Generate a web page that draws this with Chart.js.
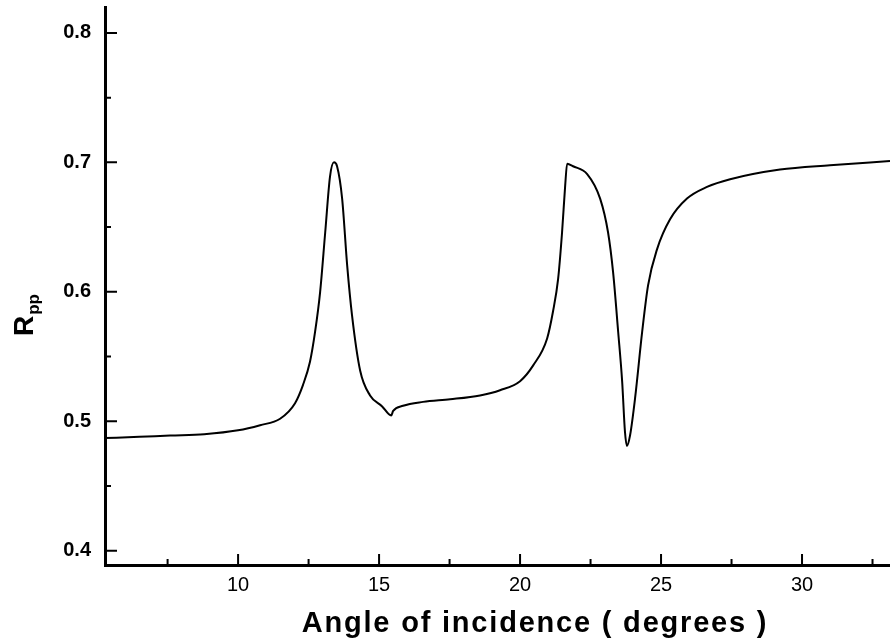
<!DOCTYPE html>
<html>
<head>
<meta charset="utf-8">
<script src="https://cdn.jsdelivr.net/npm/chart.js@4/dist/chart.umd.min.js"></script>
<style>
  html, body { margin: 0; padding: 0; background: #fff; }
  #wrap { width: 890px; height: 640px; }
</style>
</head>
<body>
<div id="wrap"><canvas id="myChart" width="890" height="640"></canvas></div>
<script>
// angle of incidence (degrees)
var angles = [5.28, 6.5, 7.59, 8.8, 10.0, 10.78, 11.49, 12.02, 12.30, 12.55,
  12.73, 12.91, 13.09, 13.26, 13.40, 13.51, 13.69, 13.87, 14.04, 14.33,
  14.68, 15.11, 15.43, 15.50, 15.85, 16.56, 17.52, 18.58, 19.29, 20.0,
  20.46, 20.96, 21.17, 21.35, 21.49, 21.60, 21.67, 21.88, 22.38, 22.84,
  23.12, 23.30, 23.48, 23.62, 23.72, 23.79, 23.90, 24.08, 24.33, 24.54,
  24.86, 25.32, 25.92, 26.63, 27.45, 29.22, 30.99, 33.12];

// reflectance Rpp
var rpp = [0.487, 0.488, 0.489, 0.490, 0.493, 0.497, 0.502, 0.514, 0.528, 0.546,
  0.569, 0.600, 0.646, 0.689, 0.700, 0.697, 0.672, 0.620, 0.582, 0.539,
  0.520, 0.5115, 0.5045, 0.508, 0.512, 0.515, 0.517, 0.520, 0.524, 0.531,
  0.543, 0.564, 0.585, 0.610, 0.646, 0.682, 0.699, 0.697, 0.691, 0.672,
  0.646, 0.615, 0.569, 0.531, 0.492, 0.481, 0.489, 0.518, 0.569, 0.605,
  0.633, 0.656, 0.672, 0.681, 0.687, 0.6945, 0.6978, 0.701];

var xTicks = [10, 15, 20, 25, 30];
var xMinorTicks = [7.5, 12.5, 17.5, 22.5, 27.5, 32.5];
var yTicks = [0.4, 0.5, 0.6, 0.7, 0.8];
var yMinorTicks = [0.45, 0.55, 0.65, 0.75];

var xTitle = 'Angle of incidence ( degrees )';
var yTitle = 'R';
var yTitleSub = 'pp';

var points = angles.map(function (a, i) { return { x: a, y: rpp[i] }; });

// inward tick marks and axis titles
var axisExtras = {
  id: 'axisExtras',
  afterDatasetsDraw: function (chart) {
    var ctx = chart.ctx;
    var xs = chart.scales.x, ys = chart.scales.y;
    var left = chart.chartArea.left, bottom = chart.chartArea.bottom;
    ctx.save();
    ctx.strokeStyle = '#000';
    ctx.lineWidth = 2;
    ctx.beginPath();
    xTicks.forEach(function (v) {
      var px = xs.getPixelForValue(v);
      ctx.moveTo(px, bottom); ctx.lineTo(px, bottom - 11);
    });
    xMinorTicks.forEach(function (v) {
      var px = xs.getPixelForValue(v);
      ctx.moveTo(px, bottom); ctx.lineTo(px, bottom - 6);
    });
    yTicks.forEach(function (v) {
      var py = ys.getPixelForValue(v);
      ctx.moveTo(left, py); ctx.lineTo(left + 12, py);
    });
    yMinorTicks.forEach(function (v) {
      var py = ys.getPixelForValue(v);
      ctx.moveTo(left, py); ctx.lineTo(left + 6, py);
    });
    ctx.stroke();
    ctx.restore();
  },
  afterDraw: function (chart) {
    var ctx = chart.ctx;
    ctx.save();
    ctx.fillStyle = '#000';
    // x title
    ctx.font = 'bold 29px "Liberation Sans", Arial, sans-serif';
    ctx.letterSpacing = '1.8px';
    ctx.textAlign = 'center';
    ctx.textBaseline = 'alphabetic';
    ctx.fillText(xTitle, 535, 632);
    ctx.letterSpacing = '0px';
    // y title with subscript
    ctx.translate(33, 336);
    ctx.rotate(-Math.PI / 2);
    ctx.textAlign = 'left';
    ctx.font = 'bold 28px "Liberation Sans", Arial, sans-serif';
    ctx.fillText(yTitle, 0, 0);
    var w = ctx.measureText(yTitle).width;
    ctx.font = 'bold 17px "Liberation Sans", Arial, sans-serif';
    ctx.fillText(yTitleSub, w + 1, 6);
    ctx.restore();
  }
};

var ctx = document.getElementById('myChart').getContext('2d');
var chart = new Chart(ctx, {
    type: 'scatter',
    data: {
        datasets: [{
            label: 'Rpp',
            data: points,
            showLine: true,
            borderColor: '#000',
            borderWidth: 2,
            pointRadius: 0,
            cubicInterpolationMode: 'monotone'
        }]
    },
    options: {
        responsive: false,
        animation: false,
        layout: { padding: { top: 7, right: 0, left: 0, bottom: 0 } },
        plugins: {
            legend: { display: false },
            tooltip: { enabled: false }
        },
        scales: {
            x: {
                type: 'linear',
                min: 5.28,
                max: 33.12,
                grid: { display: false },
                border: { display: true, color: '#000', width: 3 },
                ticks: {
                    color: '#000',
                    padding: 0,
                    font: { family: '"Liberation Sans", Arial, sans-serif', size: 20 }
                },
                afterBuildTicks: function (scale) {
                    scale.ticks = xTicks.map(function (v) { return { value: v }; });
                },
                afterFit: function (scale) {
                    scale.height = 75;
                    scale.paddingLeft = 0;
                    scale.paddingRight = 0;
                }
            },
            y: {
                type: 'linear',
                min: 0.389,
                max: 0.82,
                grid: { display: false },
                border: { display: true, color: '#000', width: 3 },
                ticks: {
                    color: '#000',
                    padding: 6,
                    font: { family: '"Liberation Sans", Arial, sans-serif', size: 20, weight: 'bold' },
                    callback: function (v) { return v.toFixed(1); }
                },
                afterBuildTicks: function (scale) {
                    scale.ticks = yTicks.map(function (v) { return { value: v }; });
                },
                afterFit: function (scale) {
                    scale.width = 105;
                    scale.paddingTop = 0;
                    scale.paddingBottom = 0;
                }
            }
        }
    },
    plugins: [axisExtras]
});
</script>
</body>
</html>
